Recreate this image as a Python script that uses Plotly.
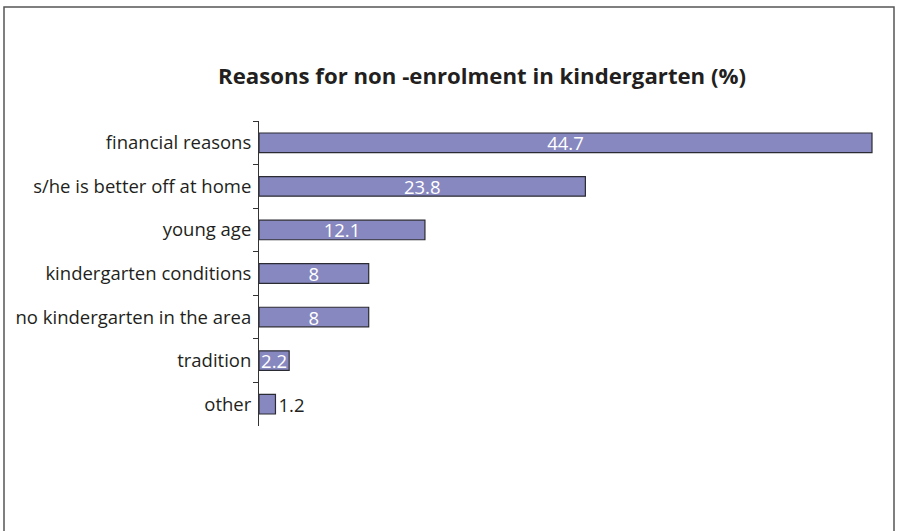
import plotly.graph_objects as go

# Survey results: reasons given for not enrolling a child in kindergarten
reasons = [
    "financial reasons",
    "s/he is better off at home",
    "young age",
    "kindergarten conditions",
    "no kindergarten in the area",
    "tradition",
    "other",
]
shares = [44.7, 23.8, 12.1, 8, 8, 2.2, 1.2]
label_positions = ["inside", "inside", "inside", "inside", "inside", "inside", "outside"]

W, H = 897, 531
L, R, T, B = 259, 17, 121, 105
plot_w = W - L - R
plot_h = H - T - B

FONT = "Open Sans"
TEXT = "#231f20"
FS = 18.5

fig = go.Figure(
    go.Bar(
        x=shares,
        y=reasons,
        orientation="h",
        marker=dict(color="#8888c0", line=dict(color="#2b2b33", width=1.2)),
        text=[f"{v:g}" for v in shares],
        textposition=label_positions,
        textangle=0,
        constraintext="none",
        insidetextanchor="middle",
        insidetextfont=dict(color="white", size=FS, family=FONT),
        outsidetextfont=dict(color=TEXT, size=FS, family=FONT),
        cliponaxis=False,
        hoverinfo="skip",
    )
)

# outer frame around the chart (open at the bottom edge of the page)
def px_x(px):
    return (px - L) / plot_w

def px_y(py):
    return (H - B - py) / plot_h

fig.add_shape(
    type="rect", xref="paper", yref="paper",
    x0=px_x(4), x1=px_x(894), y0=px_y(545), y1=px_y(7),
    line=dict(color="#555555", width=1.5), fillcolor="rgba(0,0,0,0)",
)

fig.update_layout(
    width=W, height=H,
    margin=dict(l=L, r=R, t=T, b=B),
    paper_bgcolor="white", plot_bgcolor="white",
    showlegend=False,
    bargap=0.55,
    font=dict(family=FONT, color=TEXT, size=FS),
    title=dict(
        text="<b>Reasons for non -enrolment in kindergarten (%)</b>",
        font=dict(family=FONT, size=22.2, color=TEXT),
        x=482 / W, xanchor="center",
        y=1 - 76 / H, yanchor="middle",
    ),
    xaxis=dict(range=[0, plot_w / ((872 - 259) / 44.7)], visible=False, fixedrange=True),
    yaxis=dict(
        autorange="reversed",
        showline=True, linecolor="#333333", linewidth=1,
        ticks="outside", tickson="boundaries", ticklen=5, tickcolor="#333333",
        ticklabelstandoff=3,
        tickfont=dict(family=FONT, size=FS, color=TEXT),
        showgrid=False, zeroline=False,
    ),
)

fig.write_html("out.html")
